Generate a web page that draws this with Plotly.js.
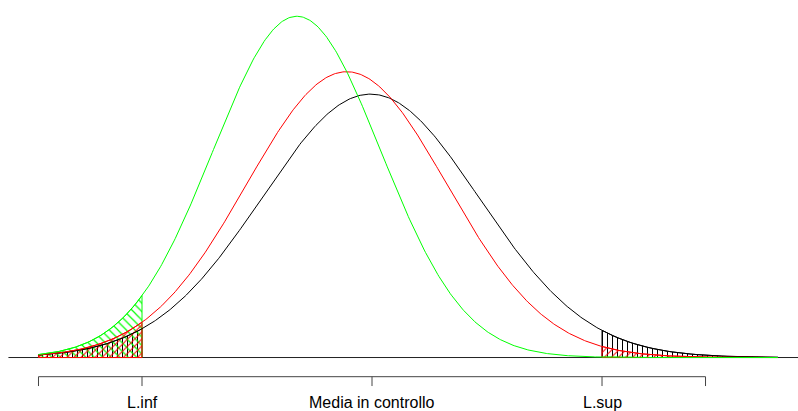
<!DOCTYPE html>
<html>
<head>
<meta charset="utf-8">
<script src="https://cdn.plot.ly/plotly-3.0.1.min.js"></script>
<style>
  html, body { margin: 0; padding: 0; background: #fff; }
  #chart { width: 798px; height: 411px; }
</style>
</head>
<body>
<div id="chart"></div>
<script>
// Distributions of the process (units: sigma of the in-control mean)
const curveNames = ["in controllo", "spostata 1", "spostata 2"];
const curveMeans = [-0.02, -0.33, -0.98];
const curveSds   = [1.416, 1.305, 1.093];
const curveColors = ["#000000", "#ff0000", "#00ff00"];
// hatch style of each tail area
const hatchShapes = ["|", "/", "\\"];
const hatchSizes  = [5, 5, 6];

// control limits and axis ticks
const limInf = -3;
const limSup = 3;
const xFrom = -4.35;
const xTo = 5.295;
const tickValues = [-4.35, -3, 0, 3, 4.35];
const tickLabels = ["", "L.inf", "Media in controllo", "L.sup", ""];

function dnorm(x, m, s) {
  const z = (x - m) / s;
  return Math.exp(-0.5 * z * z) / (s * Math.sqrt(2 * Math.PI));
}

function grid(a, b, n) {
  const out = [];
  for (let i = 0; i <= n; i++) out.push(a + (b - a) * i / n);
  return out;
}

const traces = [];

// hatched tails: black first, then green, then red on top
const tailOrder = [0, 2, 1];
tailOrder.forEach(k => {
  [[xFrom, limInf], [limSup, xTo]].forEach(([a, b]) => {
    const xs = grid(a, b, 200);
    const ys = xs.map(x => dnorm(x, curveMeans[k], curveSds[k]));
    xs.push(b, a, a); ys.push(0, 0, dnorm(a, curveMeans[k], curveSds[k]));
    traces.push({
      x: xs, y: ys, type: "scatter", mode: "lines",
      line: { color: curveColors[k], width: 1 },
      fill: "toself",
      fillcolor: "rgba(0,0,0,0)",
      fillpattern: {
        shape: hatchShapes[k], size: hatchSizes[k], solidity: 0.2,
        fgcolor: curveColors[k], bgcolor: "rgba(0,0,0,0)"
      },
      hoverinfo: "skip", name: curveNames[k]
    });
  });
});

// density curves
[0, 1, 2].forEach(k => {
  const xs = grid(xFrom, xTo, 600);
  traces.push({
    x: xs, y: xs.map(x => dnorm(x, curveMeans[k], curveSds[k])),
    type: "scatter", mode: "lines",
    line: { color: curveColors[k], width: 1 },
    hoverinfo: "skip", name: curveNames[k]
  });
});

const axisY = -0.0205;
const tickLen = 0.0100;

const shapes = [
  // zero line across the plotting region
  { type: "line", xref: "x", yref: "y", x0: -4.742, x1: 5.6, y0: 0, y1: 0,
    line: { color: "#222", width: 1 }, layer: "below" },
  // axis line
  { type: "line", xref: "x", yref: "y", x0: tickValues[0], x1: tickValues[tickValues.length - 1],
    y0: axisY, y1: axisY, line: { color: "#444", width: 1 } }
];
tickValues.forEach(t => {
  shapes.push({ type: "line", xref: "x", yref: "y", x0: t, x1: t,
    y0: axisY, y1: axisY - tickLen, line: { color: "#444", width: 1 } });
});

const annotations = [];
tickValues.forEach((t, i) => {
  if (!tickLabels[i]) return;
  annotations.push({
    x: t, y: -0.0365, xref: "x", yref: "y",
    text: tickLabels[i], showarrow: false,
    xanchor: "center", yanchor: "top",
    font: { family: "Liberation Sans, Arial, sans-serif", size: 16, color: "#000" }
  });
});

const layout = {
  width: 798, height: 411,
  margin: { l: 0, r: 0, t: 0, b: 0 },
  paper_bgcolor: "#fff", plot_bgcolor: "#fff",
  showlegend: false,
  xaxis: { range: [-4.852, 5.556], visible: false, fixedrange: true },
  yaxis: { range: [-0.0572, 0.3824], visible: false, fixedrange: true },
  shapes: shapes,
  annotations: annotations
};

Plotly.newPlot("chart", traces, layout, { displayModeBar: false, staticPlot: true });
</script>
</body>
</html>
